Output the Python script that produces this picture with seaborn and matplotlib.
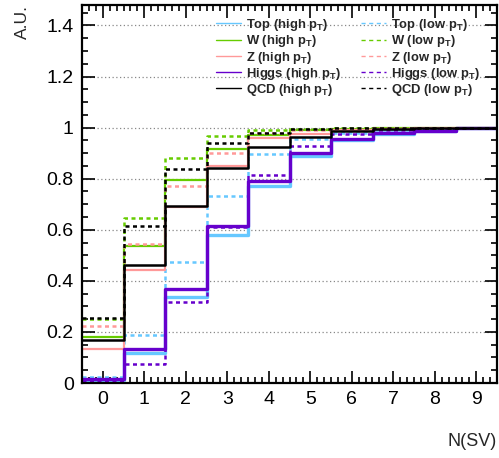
import matplotlib
matplotlib.use("Agg")
import matplotlib.pyplot as plt
import seaborn as sns
import numpy as np
import pandas as pd
from matplotlib.lines import Line2D
from matplotlib.ticker import MultipleLocator, FormatStrFormatter

# ---------------- data ----------------
bins = [0, 1, 2, 3, 4, 5, 6, 7, 8, 9]
top_high = [0.012, 0.117, 0.336, 0.581, 0.770, 0.887, 0.950, 0.975, 0.985, 1.0]
top_low = [0.025, 0.188, 0.474, 0.732, 0.895, 0.955, 0.980, 0.990, 0.995, 1.0]
w_high = [0.182, 0.537, 0.793, 0.916, 0.972, 0.990, 0.996, 0.998, 0.999, 1.0]
w_low = [0.250, 0.646, 0.882, 0.967, 0.989, 0.995, 0.998, 0.999, 1.0, 1.0]
z_high = [0.135, 0.442, 0.689, 0.849, 0.961, 0.976, 0.990, 0.996, 0.998, 1.0]
z_low = [0.222, 0.545, 0.773, 0.902, 0.980, 0.990, 0.996, 0.998, 0.999, 1.0]
higgs_high = [0.015, 0.135, 0.369, 0.616, 0.792, 0.900, 0.957, 0.979, 0.987, 1.0]
higgs_low = [0.008, 0.076, 0.318, 0.610, 0.816, 0.926, 0.976, 0.990, 0.995, 1.0]
qcd_high = [0.167, 0.461, 0.694, 0.843, 0.924, 0.963, 0.987, 0.995, 0.998, 1.0]
qcd_low = [0.255, 0.613, 0.837, 0.940, 0.980, 0.993, 0.997, 0.999, 1.0, 1.0]

labels_high = ["Top (high p$_T$)", "W (high p$_T$)", "Z (high p$_T$)",
               "Higgs (high p$_T$)", "QCD (high p$_T$)"]
labels_low = ["Top (low p$_T$)", "W (low p$_T$)", "Z (low p$_T$)",
              "Higgs (low p$_T$)", "QCD (low p$_T$)"]
xlabel = "N(SV)"
ylabel = "A.U."

colors = ["#66c8ff", "#66cc00", "#ff9999", "#6600cc", "#000000"]
highs = [top_high, w_high, z_high, higgs_high, qcd_high]
lows = [top_low, w_low, z_low, higgs_low, qcd_low]
lw_high = [2.4, 1.6, 1.6, 2.4, 1.8]

# ---------------- style ----------------
sns.set_theme(style="ticks")
plt.rcParams["font.family"] = ["Liberation Sans", "DejaVu Sans"]
plt.rcParams["mathtext.fontset"] = "custom"
plt.rcParams["mathtext.rm"] = "Liberation Sans"
plt.rcParams["mathtext.bf"] = "Liberation Sans:bold"
plt.rcParams["mathtext.default"] = "bf"

fig = plt.figure(figsize=(4.99, 4.58), dpi=100)
ax = fig.add_axes([82 / 499, 1 - 383 / 458, (497 - 82) / 499, (383 - 5) / 458])

dash = (0, (1.6, 1.4))
for col, hv, lv, lwh in zip(colors, highs, lows, lw_high):
    df_h = pd.DataFrame({"x": bins, "w": hv})
    df_l = pd.DataFrame({"x": bins, "w": lv})
    sns.histplot(data=df_l, x="x", weights="w", discrete=True, element="step",
                 fill=False, color=col, linewidth=1.8, linestyle=dash, ax=ax)
    sns.histplot(data=df_h, x="x", weights="w", discrete=True, element="step",
                 fill=False, color=col, linewidth=lwh, ax=ax)

ax.set_xlim(-0.5, 9.5)
ax.set_ylim(0, 1.48)

ax.yaxis.set_major_locator(MultipleLocator(0.2))
ax.yaxis.set_minor_locator(MultipleLocator(0.05))
ax.xaxis.set_major_locator(MultipleLocator(1))
ax.xaxis.set_minor_locator(MultipleLocator(1 / 6))
ax.yaxis.set_major_formatter(FormatStrFormatter("%g"))
ax.grid(axis="y", which="major", linestyle=(0, (1, 2)), color="#888888", linewidth=0.9)
ax.set_axisbelow(True)

ax.tick_params(which="both", direction="in", top=True, right=True,
               labelsize=14, colors="black", width=1.2)
ax.tick_params(which="major", length=9, pad=6)
ax.tick_params(which="minor", length=4.5)
for s in ax.spines.values():
    s.set_linewidth(1.6)
    s.set_color("black")

ax.set_xlabel(xlabel, loc="right", fontsize=13, labelpad=18)
ax.set_ylabel(ylabel, loc="top", fontsize=12.5, labelpad=12)

handles_h = [Line2D([], [], color=c, lw=1.0) for c in colors]
handles_l = [Line2D([], [], color=c, lw=1.0, linestyle=(0, (3, 2.5))) for c in colors]
leg = ax.legend(handles_h + handles_l, labels_high + labels_low, ncol=2,
                loc="upper left", bbox_to_anchor=(216 / 499, 1 - 17 / 458),
                bbox_transform=fig.transFigure, frameon=False,
                prop={"size": 9.4, "weight": "bold"},
                handlelength=1.9, handletextpad=0.4, columnspacing=1.55,
                labelspacing=0.02, borderpad=0, borderaxespad=0)

fig.savefig("out.png", dpi=100)
